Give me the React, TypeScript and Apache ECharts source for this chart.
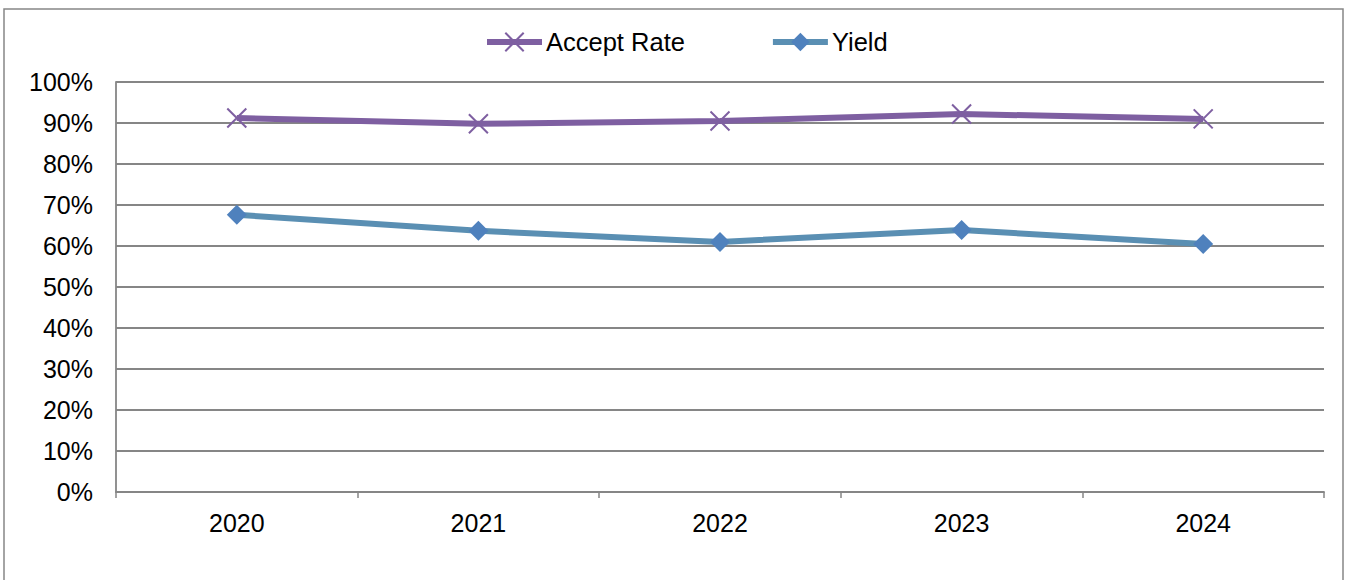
import React, { useEffect, useRef } from "react";
import * as echarts from "echarts";

const categories = ["2020", "2021", "2022", "2023", "2024"];
const acceptRate = [91.2, 89.8, 90.5, 92.2, 91.0];
const yieldRate = [67.6, 63.7, 61.0, 63.9, 60.5];
const yTicks = { min: 0, max: 100, interval: 10 };

const FONT = "'Liberation Sans', Arial, sans-serif";
const PURPLE = "#7E5FA1";
const BLUE_LINE = "#5A8FB3";
const BLUE_MARK = "#4F81BD";
const GRAY = "#868686";
const XPATH = "path://M0,0L10,10M10,0L0,10";

export default function App() {
  const ref = useRef<HTMLDivElement>(null);
  useEffect(() => {
    const chart = echarts.init(ref.current!, undefined, { renderer: "svg" });
    chart.setOption({
      animation: false,
      textStyle: { fontFamily: FONT },
      graphic: [
        {
          type: "rect",
          shape: { x: 4, y: 9, width: 1339, height: 600 },
          style: { fill: "none", stroke: GRAY, lineWidth: 1.5 },
          silent: true,
        },
      ],
      legend: {
        top: 24,
        left: 479,
        itemWidth: 55,
        itemHeight: 23,
        itemGap: 85,
        lineStyle: { width: 6 },
        textStyle: { fontSize: 25.5, color: "#000", fontFamily: FONT, padding: [0, 0, 0, -1] },
        data: ["Accept Rate", "Yield"],
      },
      grid: { left: 116, right: 24, top: 82, bottom: 88 },
      xAxis: {
        type: "category",
        data: categories,
        boundaryGap: true,
        axisLine: { lineStyle: { color: GRAY, width: 1.8 } },
        axisTick: { show: true, length: 6, inside: false, lineStyle: { color: GRAY, width: 1.5 } },
        axisLabel: { fontSize: 25, color: "#000", margin: 18, fontFamily: FONT },
      },
      yAxis: {
        type: "value",
        min: yTicks.min,
        max: yTicks.max,
        interval: yTicks.interval,
        axisLine: { show: true, lineStyle: { color: GRAY, width: 1.8 } },
        axisTick: { show: false },
        splitLine: { lineStyle: { color: GRAY, width: 1.8 } },
        axisLabel: { fontSize: 25, color: "#000", margin: 23, formatter: "{value}%", fontFamily: FONT },
      },
      series: [
        {
          name: "Accept Rate",
          type: "line",
          data: acceptRate,
          symbol: XPATH,
          symbolSize: 19,
          lineStyle: { color: PURPLE, width: 6 },
          itemStyle: { color: "rgba(0,0,0,0)", borderColor: PURPLE, borderWidth: 2 },
        },
        {
          name: "Yield",
          type: "line",
          data: yieldRate,
          symbol: "diamond",
          symbolSize: 20,
          lineStyle: { color: BLUE_LINE, width: 6 },
          itemStyle: { color: BLUE_MARK, borderWidth: 0 },
        },
      ],
    });
    return () => chart.dispose();
  }, []);
  return (
    <div
      ref={ref}
      style={{ position: "absolute", left: 0, top: 0, width: 1348, height: 580, background: "#fff" }}
    />
  );
}
